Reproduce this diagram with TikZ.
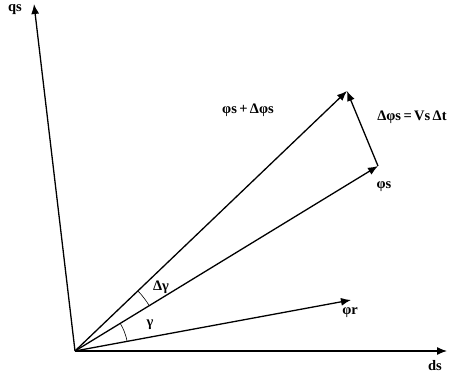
\documentclass[tikz,border=0pt]{standalone}
\usepackage{fontspec}
\setmainfont{Liberation Serif}
\usetikzlibrary{arrows.meta}
\begin{document}
\begin{tikzpicture}[x=1pt,y=1pt,
  vec/.style={line width=1.3pt,-{Latex[length=10pt,width=8pt]}},
  lab/.style={inner sep=1pt,font=\bfseries\fontsize{14.5}{16}\selectfont},
  arcline/.style={line width=0.6pt}]
\useasboundingbox (0,0) rectangle (456,378);
\coordinate (O) at (75,27);
\coordinate (ds) at (447,27);
\coordinate (qs) at (34,374);
\coordinate (phis) at (378,212);
\coordinate (phisd) at (347,287);
\coordinate (phir) at (351,78);
\draw[vec] (O) -- (ds);
\draw[vec] (O) -- (qs);
\draw[vec] (O) -- (phir);
\draw[vec] (O) -- (phis);
\draw[vec] (O) -- (phisd);
\draw[vec] (phis) -- (phisd);
\draw[arcline] ([shift={(10.5:53)}]O) arc[start angle=10.5,end angle=31.5,radius=53];
\draw[arcline] ([shift={(31.5:87)}]O) arc[start angle=31.5,end angle=43.7,radius=87];
\node[lab] (lqs) at (15,368) {qs};
\node[lab] (lds) at (435,12) {ds};
\node[lab] (lphis) at (384,191) {φs};
\node[lab] (lphir) at (350,65) {φr};
\node[lab] (lsum) at (248,268) {φs\,+\,Δφs};
\node[lab] (ldel) at (412,261) {Δφs\,=\,Vs\,Δt};
\node[lab] (lg) at (150,53) {γ};
\node[lab] (ldg) at (161,91) {Δγ};
\end{tikzpicture}
\end{document}
